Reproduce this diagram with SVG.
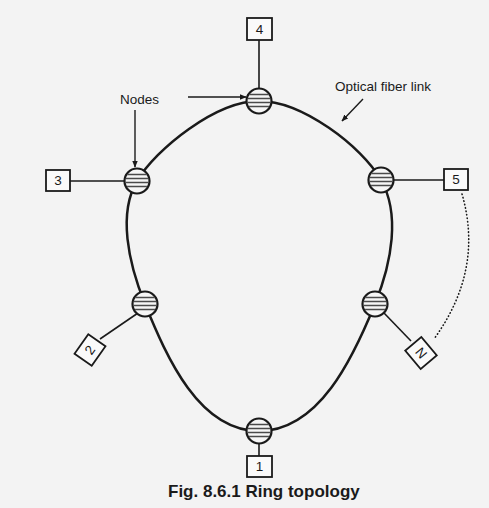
<svg xmlns="http://www.w3.org/2000/svg" width="489" height="508" viewBox="0 0 489 508">
<style>
.ring{fill:none;stroke:#1a1a1a;stroke-width:2.5}
.link{fill:none;stroke:#1a1a1a;stroke-width:1.6}
.box{fill:#fafafa;stroke:#1a1a1a;stroke-width:1.8}
.nc{fill:#f6f6f6;stroke:#1a1a1a;stroke-width:2.2}
.st{stroke:#4a4a4a;stroke-width:1.4}
.lbl{font-family:"Liberation Sans",Arial,sans-serif;font-size:13.5px;fill:#1a1a1a}
.num{font-family:"Liberation Sans",Arial,sans-serif;font-size:13.5px;fill:#1a1a1a;text-anchor:middle;dominant-baseline:central}
.cap{font-family:"Liberation Sans",Arial,sans-serif;font-size:17px;font-weight:bold;fill:#1a1a1a}
.arr{fill:none;stroke:#1a1a1a;stroke-width:1.4;marker-end:url(#ah)}
.dot{fill:none;stroke:#1a1a1a;stroke-width:1.6;stroke-dasharray:0.5 3;stroke-linecap:round}
</style>
<defs>
<marker id="ah" viewBox="0 0 10 10" refX="9" refY="5" markerWidth="7" markerHeight="7" orient="auto" markerUnits="userSpaceOnUse">
<path d="M0,1 L10,5 L0,9 z" fill="#1a1a1a"/>
</marker>
<clipPath id="cc"><circle r="11.5"/></clipPath>
<g id="nodeShape">
<circle class="nc" r="12.5"/>
<g clip-path="url(#cc)">
<line class="st" x1="-13" y1="-6.5" x2="13" y2="-6.5"/>
<line class="st" x1="-13" y1="-2.5" x2="13" y2="-2.5"/>
<line class="st" x1="-13" y1="1.5" x2="13" y2="1.5"/>
<line class="st" x1="-13" y1="5.5" x2="13" y2="5.5"/>
</g>
</g>
</defs>
<rect width="489" height="508" fill="#f3f3f3"/>
<g id="connectors">
<path class="ring" d="M259,101 C302,101 361.7,146.2 381,180 C400.3,213.8 392,262 375,304 C353,358 319,431 259,431 C199,431 167,358 145,304 C128,262 118,213.2 137,181 C156,148.8 216,101 259,101 Z"/>
<line class="link" x1="259" y1="40" x2="259" y2="89"/>
<line class="link" x1="70" y1="181" x2="124" y2="181"/>
<line class="link" x1="393" y1="180" x2="444" y2="180"/>
<line class="link" x1="138" y1="313" x2="100" y2="339"/>
<line class="link" x1="384" y1="313" x2="411" y2="341"/>
<line class="link" x1="259" y1="443" x2="259" y2="456"/>
<path class="dot" d="M462,194 Q484,270 434,339"/>
</g>
<g id="node4"><use href="#nodeShape" transform="translate(259,101)"/><rect class="box" x="247" y="18" width="25" height="22"/><text class="num" x="259.5" y="29">4</text></g>
<g id="node3"><use href="#nodeShape" transform="translate(137,181)"/><rect class="box" x="46" y="170" width="24" height="21"/><text class="num" x="58" y="180.5">3</text></g>
<g id="node5"><use href="#nodeShape" transform="translate(381,180)"/><rect class="box" x="444" y="169" width="24" height="21"/><text class="num" x="456" y="179.5">5</text></g>
<g id="node2"><use href="#nodeShape" transform="translate(145,304)"/><g transform="translate(90,350) rotate(-55)"><rect class="box" x="-12" y="-10.5" width="24" height="21"/><text class="num" x="0" y="0">2</text></g></g>
<g id="nodeN"><use href="#nodeShape" transform="translate(375,304)"/><g transform="translate(421,353) rotate(50)"><rect class="box" x="-12" y="-10.5" width="24" height="21"/><text class="num" x="0" y="0">N</text></g></g>
<g id="node1"><use href="#nodeShape" transform="translate(259,431)"/><rect class="box" x="247" y="456" width="25" height="21"/><text class="num" x="259.5" y="466.5">1</text></g>
<g id="labels">
<text class="lbl" x="120" y="104">Nodes</text>
<line class="arr" x1="188" y1="97" x2="246" y2="97"/>
<line class="arr" x1="135" y1="110" x2="135" y2="167"/>
<text class="lbl" x="335" y="91">Optical fiber link</text>
<line class="arr" x1="363" y1="99" x2="342" y2="121"/>
<text class="cap" x="168" y="497">Fig. 8.6.1 Ring topology</text>
</g>
</svg>
